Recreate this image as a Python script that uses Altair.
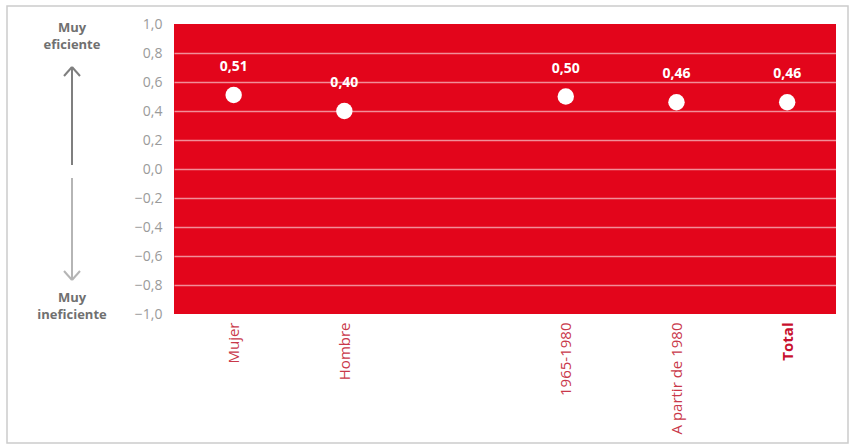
import altair as alt
import pandas as pd

categories = ["Mujer", "Hombre", "1965-1980", "A partir de 1980", "Total"]
values = [0.51, 0.40, 0.50, 0.46, 0.46]
x_domain = ["Mujer", "Hombre", " ", "1965-1980", "A partir de 1980", "Total"]
y_ticks = [-1.0, -0.8, -0.6, -0.4, -0.2, 0.0, 0.2, 0.4, 0.6, 0.8, 1.0]
top_label = ["Muy", "eficiente"]
bottom_label = ["Muy", "ineficiente"]

df = pd.DataFrame({"cat": categories, "val": values})

RED = "#e3051b"
FONT = "Open Sans"
W, H = 662, 290
one = alt.Data(values=[{}])

x_axis = alt.Axis(
    title=None, labelAngle=-90, labelFontSize=15, labelFont=FONT,
    labelPadding=8, domain=False, ticks=False, grid=False,
    labelColor={"expr": "datum.value == 'Total' ? '#c8102e' : '#c9384a'"},
    labelFontWeight={"expr": "datum.value == 'Total' ? 'bold' : 'normal'"},
)
y_axis = alt.Axis(
    title=None, values=y_ticks, labelFontSize=14, labelFont=FONT,
    labelColor="#9a9a9a", labelPadding=12, domain=False, ticks=False,
    labelExpr="replace(format(datum.value, '.1f'), '.', ',')",
    gridColor="white", gridWidth=1.5,
    gridOpacity={"expr": "abs(datum.value) > 0.99 ? 0 : 0.55"},
)

x_enc = alt.X("cat:N", sort=x_domain,
              scale=alt.Scale(type="point", domain=x_domain, padding=0.49, align=0.55),
              axis=x_axis)
y_enc = alt.Y("val:Q", scale=alt.Scale(domain=[-1, 1], nice=False, zero=False),
              axis=y_axis)

base = alt.Chart(df).encode(x=x_enc, y=y_enc)
points = base.mark_circle(size=270, color="white", opacity=1)
labels = base.transform_calculate(
    lab="replace(format(datum.val, '.2f'), '.', ',')"
).mark_text(dy=-28, color="white", fontWeight="bold", fontSize=14, font=FONT).encode(
    text="lab:N")

def rule(x, y, x2, y2, color, w=2):
    return alt.Chart(one).mark_rule(color=color, strokeWidth=w).encode(
        x=alt.value(x), y=alt.value(y), x2=alt.value(x2), y2=alt.value(y2))

def txt(t, y):
    return alt.Chart(one).mark_text(
        font=FONT, fontSize=13, fontWeight="bold", color="#707070",
        baseline="middle", align="center").encode(
        x=alt.value(-102), y=alt.value(y), text=alt.value(t))

deco = [
    rule(-102, 43, -102, 141, "#7f7f7f"),
    rule(-110, 52, -102, 43, "#7f7f7f"),
    rule(-94, 52, -102, 43, "#7f7f7f"),
    rule(-102, 154, -102, 256, "#b5b5b5"),
    rule(-110, 247, -102, 256, "#b5b5b5"),
    rule(-94, 247, -102, 256, "#b5b5b5"),
    txt(top_label[0], 4), txt(top_label[1], 21),
    txt(bottom_label[0], 274), txt(bottom_label[1], 291),
    alt.Chart(one).mark_rect(fillOpacity=0, stroke="#cccccc", strokeWidth=1.5).encode(
        x=alt.value(-167), x2=alt.value(674), y=alt.value(-18), y2=alt.value(419)),
]

chart = alt.layer(points, labels, *deco).properties(
    width=W, height=H,
    padding={"left": 174, "top": 24, "right": 16, "bottom": 134},
    autosize=alt.AutoSizeParams(type="none"),
    background="white",
).configure_view(fill=RED, stroke=None)

chart.save("out.html", embed_options={"renderer": "svg", "actions": False})
